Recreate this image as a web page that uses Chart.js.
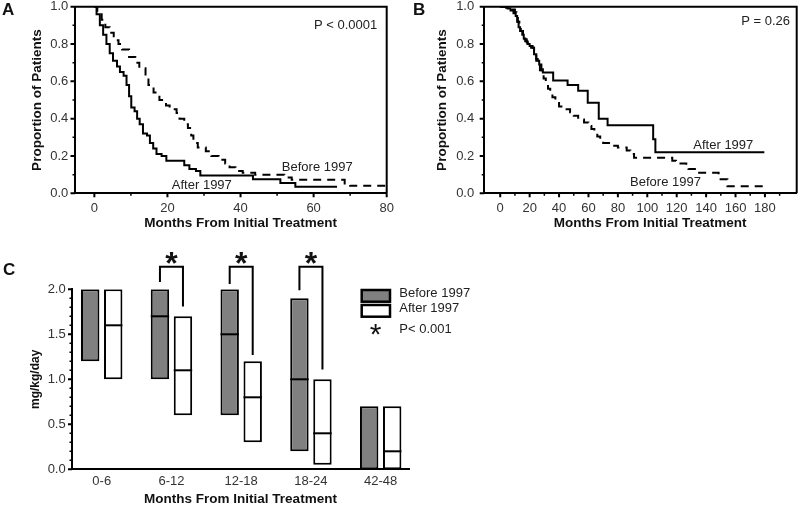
<!DOCTYPE html>
<html><head><meta charset="utf-8">
<script src="https://cdn.jsdelivr.net/npm/chart.js@4"></script>
<style>
html,body{margin:0;padding:0;background:#fff;width:800px;height:505px;overflow:hidden;position:relative;font-family:'Liberation Sans',Arial,sans-serif;}
canvas{position:absolute;}
.lbl{position:absolute;font-weight:bold;font-size:17px;line-height:17px;color:#111;}
</style></head><body>
<canvas id="cA" width="400" height="260" style="left:0;top:-10px"></canvas>
<canvas id="cB" width="400" height="260" style="left:400px;top:-10px"></canvas>
<canvas id="cC" width="500" height="275" style="left:0;top:240px"></canvas>
<div class="lbl" style="left:2px;top:1px">A</div>
<div class="lbl" style="left:413px;top:1px">B</div>
<div class="lbl" style="left:3px;top:261px">C</div>
<script>
// ---------- Panel A data ----------
const aAfterT = [0, 0.6, 1.5, 2.4, 3.3, 4.2, 5.1, 6.2, 7.0, 8.0, 8.8, 9.5, 10.1, 11.0, 11.7, 12.4, 13.3, 14.4, 15.2, 16.1, 17.0, 18.4, 19.7, 24.6, 26.0, 27.8, 29.0, 43.4, 50.9, 55.0, 66.4];
const aAfterP = [1.0, 0.96, 0.90, 0.85, 0.80, 0.75, 0.71, 0.68, 0.65, 0.63, 0.58, 0.52, 0.46, 0.44, 0.40, 0.37, 0.32, 0.31, 0.27, 0.24, 0.21, 0.20, 0.175, 0.15, 0.13, 0.12, 0.095, 0.075, 0.055, 0.035, 0.035];
const aBeforeT = [0, 0.8, 2.0, 3.0, 4.2, 5.3, 6.6, 7.6, 9.5, 11.2, 12.3, 14.0, 14.8, 16.2, 17.8, 19.6, 20.6, 22.5, 23.3, 24.6, 25.6, 26.5, 27.1, 28.3, 30.5, 32.0, 34.0, 35.8, 37.0, 38.6, 40.6, 44.0, 52.0, 54.0, 68.5, 70.0, 80.0];
const aBeforeP = [1.0, 0.96, 0.93, 0.89, 0.86, 0.82, 0.80, 0.77, 0.73, 0.70, 0.67, 0.62, 0.58, 0.54, 0.50, 0.47, 0.45, 0.43, 0.40, 0.37, 0.35, 0.31, 0.27, 0.245, 0.225, 0.20, 0.18, 0.16, 0.14, 0.12, 0.11, 0.10, 0.085, 0.072, 0.045, 0.04, 0.04];
const aXTicks = [0, 20, 40, 60, 80];
const aXMinor = [10, 30, 50, 70];

// ---------- Panel B data ----------
const bAfterT = [0, 5, 7, 9, 10.5, 11.5, 12.5, 13.5, 15, 16, 17, 18.5, 20, 22, 23, 24.5, 26.5, 28, 29, 36, 45.8, 53, 59.5, 67, 73, 104, 105.5, 179.6];
const bAfterP = [1.0, 0.99, 0.98, 0.965, 0.95, 0.92, 0.89, 0.87, 0.85, 0.83, 0.815, 0.80, 0.79, 0.78, 0.745, 0.71, 0.69, 0.665, 0.648, 0.605, 0.58, 0.55, 0.485, 0.40, 0.365, 0.29, 0.22, 0.22];
const bBeforeT = [0, 4, 8, 10, 11, 12, 13, 14, 15.5, 16.5, 18, 19.5, 21, 23, 24.5, 25.5, 27, 28, 29.5, 31, 32.5, 34, 35.5, 37.5, 40, 43, 47.5, 50, 53, 57, 60, 62, 64, 66, 68, 70, 74, 80, 86, 88.5, 91, 117, 119.5, 126.5, 128, 133.5, 148.5, 154.5, 182];
const bBeforeP = [1.0, 0.995, 0.985, 0.97, 0.95, 0.92, 0.895, 0.87, 0.85, 0.825, 0.81, 0.795, 0.78, 0.76, 0.72, 0.70, 0.66, 0.64, 0.615, 0.59, 0.56, 0.535, 0.515, 0.49, 0.465, 0.45, 0.435, 0.415, 0.395, 0.38, 0.36, 0.345, 0.325, 0.305, 0.285, 0.27, 0.255, 0.245, 0.23, 0.21, 0.19, 0.175, 0.16, 0.15, 0.13, 0.11, 0.075, 0.038, 0.038];
const bXTicks = [0, 20, 40, 60, 80, 100, 120, 140, 160, 180];
const bXMinor = [10, 30, 50, 70, 90, 110, 130, 150, 170, 190];

// shared KM y ticks
const kmYTicks = [0, 0.2, 0.4, 0.6, 0.8, 1.0];
const kmYTickLabels = ['0.0', '0.2', '0.4', '0.6', '0.8', '1.0'];
const kmYMinor = [0.1, 0.3, 0.5, 0.7, 0.9];

// ---------- Panel C data ----------
const cCategories = ['0-6', '6-12', '12-18', '18-24', '42-48'];
const beforeLow  = [1.2, 1.0, 0.6, 0.2, 0.0];
const beforeHigh = [2.0, 2.0, 2.0, 1.9, 0.7];
const beforeMed  = [null, 1.7, 1.5, 1.0, null];
const afterLow   = [1.0, 0.6, 0.3, 0.05, 0.0];
const afterHigh  = [2.0, 1.7, 1.2, 1.0, 0.7];
const afterMed   = [1.6, 1.1, 0.8, 0.4, 0.2];
const bracketLeftEnd  = [null, 2.08, 2.06, 1.99, null];
const bracketTop      = [null, 2.25, 2.25, 2.25, null];
const bracketRightEnd = [null, 1.81, 1.27, 1.11, null];
const cYTicks = [0, 0.5, 1.0, 1.5, 2.0];
const cYTickLabels = ['0.0', '0.5', '1.0', '1.5', '2.0'];
const cYMinor = [0.1, 0.2, 0.3, 0.4, 0.6, 0.7, 0.8, 0.9, 1.1, 1.2, 1.3, 1.4, 1.6, 1.7, 1.8, 1.9];

const FONT = "'Liberation Sans', Arial, Helvetica, sans-serif";
Chart.defaults.font.family = FONT;
Chart.defaults.font.size = 13;
Chart.defaults.color = '#333';
Chart.defaults.animation = false;

const decoPlugin = {
  id: 'deco',
  afterDatasetsDraw(chart, args, opts) {
    const ctx = chart.ctx;
    const ys = chart.scales.y;
    if (opts.boxes) {
      const mB = chart.getDatasetMeta(0), mA = chart.getDatasetMeta(1);
      ctx.save();
      ctx.strokeStyle = '#000'; ctx.lineWidth = 2; ctx.lineCap = 'butt';
      [[mB, beforeMed], [mA, afterMed]].forEach(([meta, med]) => {
        meta.data.forEach((el, i) => {
          if (med[i] == null) return;
          const p = el.getProps(['x', 'width'], true);
          const y = ys.getPixelForValue(med[i]);
          ctx.beginPath(); ctx.moveTo(p.x - p.width / 2, y); ctx.lineTo(p.x + p.width / 2, y); ctx.stroke();
        });
      });
      ctx.fillStyle = '#111';
      cCategories.forEach((c, i) => {
        if (bracketTop[i] == null) return;
        const xl = mB.data[i].getProps(['x'], true).x;
        const xr = mA.data[i].getProps(['x'], true).x;
        ctx.beginPath();
        ctx.moveTo(xl, ys.getPixelForValue(bracketLeftEnd[i]));
        ctx.lineTo(xl, ys.getPixelForValue(bracketTop[i]));
        ctx.lineTo(xr, ys.getPixelForValue(bracketTop[i]));
        ctx.lineTo(xr, ys.getPixelForValue(bracketRightEnd[i]));
        ctx.stroke();
        ctx.font = 'bold 32px ' + FONT; ctx.textAlign = 'center'; ctx.textBaseline = 'middle';
        ctx.fillText('*', (xl + xr) / 2, ys.getPixelForValue(opts.starLevel));
      });
      ctx.restore();
    }
  },
  afterDraw(chart, args, opts) {
    const ctx = chart.ctx, ca = chart.chartArea;
    const xs = chart.scales.x, ys = chart.scales.y;
    ctx.save();
    ctx.strokeStyle = '#000'; ctx.lineCap = 'butt';
    if (opts.frame) {
      ctx.lineWidth = 2;
      ctx.beginPath(); ctx.moveTo(ca.left, ca.top); ctx.lineTo(ca.right, ca.top); ctx.lineTo(ca.right, ca.bottom); ctx.stroke();
    }
    (opts.ticks || []).forEach(t => {
      ctx.lineWidth = t.w;
      ctx.beginPath();
      t.values.forEach(v => {
        if (t.axis === 'x') { const px = xs.getPixelForValue(v); ctx.moveTo(px, ca.bottom); ctx.lineTo(px, ca.bottom + t.len); }
        else { const py = ys.getPixelForValue(v); ctx.moveTo(ca.left, py); ctx.lineTo(ca.left - t.len, py); }
      });
      ctx.stroke();
    });
    (opts.texts || []).forEach(t => {
      ctx.font = (t.weight || 'normal') + ' ' + (t.size || 13) + 'px ' + FONT;
      ctx.fillStyle = t.color || '#222';
      ctx.textAlign = t.align || 'left';
      ctx.textBaseline = 'middle';
      const px = t.px !== undefined ? t.px : xs.getPixelForValue(t.x);
      const py = t.py !== undefined ? t.py : ys.getPixelForValue(t.y);
      ctx.fillText(t.text, px, py);
    });
    if (opts.legend) {
      const L = opts.legend;
      chart.data.datasets.forEach((ds, i) => {
        const r = L.swatches[i];
        ctx.fillStyle = ds.backgroundColor; ctx.fillRect(r[0], r[1], r[2], r[3]);
        ctx.lineWidth = 2.5; ctx.strokeStyle = '#000'; ctx.strokeRect(r[0], r[1], r[2], r[3]);
        ctx.font = '13px ' + FONT; ctx.fillStyle = '#222'; ctx.textAlign = 'left'; ctx.textBaseline = 'middle';
        ctx.fillText(ds.label, L.textX, L.textY[i]);
      });
      ctx.font = '30px ' + FONT; ctx.textAlign = 'center'; ctx.fillStyle = '#111';
      ctx.fillText('*', L.starX, L.starY);
      ctx.font = '13px ' + FONT; ctx.textAlign = 'left'; ctx.fillStyle = '#222';
      ctx.fillText(L.pText, L.textX, L.pY);
    }
    ctx.restore();
  }
};
Chart.register(decoPlugin);

function kmDataset(label, T, P, dash) {
  return {
    label, data: T.map((t, i) => ({x: t, y: P[i]})),
    stepped: 'before', borderColor: '#000', borderWidth: 2, pointRadius: 0,
    fill: false, borderDash: dash, tension: 0
  };
}

function kmOptions(cfg) {
  return {
    responsive: false, animation: false, events: [],
    layout: {padding: {left: cfg.padLeft, top: 16.7, right: cfg.padRight, bottom: 0}},
    plugins: {
      legend: {display: false}, tooltip: {enabled: false},
      deco: {
        frame: true,
        ticks: [
          {axis: 'x', values: cfg.xTicks, len: 4, w: 2},
          {axis: 'x', values: cfg.xMinor, len: 2.5, w: 1.5},
          {axis: 'y', values: kmYTicks, len: 4.5, w: 2},
          {axis: 'y', values: kmYMinor, len: 2.5, w: 1.5}
        ],
        texts: cfg.texts
      }
    },
    scales: {
      x: {
        type: 'linear', min: cfg.xMin, max: cfg.xMax,
        afterBuildTicks: s => { s.ticks = cfg.xTicks.map(v => ({value: v})); },
        afterFit: s => { s.height = 56.7; },
        grid: {display: false, drawTicks: true, tickLength: 4},
        border: {display: true, color: '#000', width: 2},
        ticks: {padding: 3, autoSkip: false, maxRotation: 0, color: '#333', callback: v => String(v)}
      },
      y: {
        type: 'linear', min: 0, max: 1,
        afterBuildTicks: s => { s.ticks = kmYTicks.map(v => ({value: v})); },
        afterFit: s => { s.width = 75; },
        grid: {display: false, drawTicks: true, tickLength: 4.5},
        border: {display: true, color: '#000', width: 2},
        ticks: {padding: cfg.yTickPad, color: '#333', callback: (v, i) => kmYTickLabels[i]},
        title: {display: true, text: 'Proportion of Patients', color: '#111',
                font: {size: 13.5, weight: 'bold'}, padding: {top: cfg.yTitlePad, bottom: 0}}
      }
    }
  };
}

new Chart(document.getElementById('cA'), {
  type: 'line',
  data: {datasets: [
    kmDataset('After 1997', aAfterT, aAfterP, []),
    kmDataset('Before 1997', aBeforeT, aBeforeP, [8, 6])
  ]},
  options: kmOptions({
    padLeft: 0, padRight: 13.3, xMin: -5.3, xMax: 80, xTicks: aXTicks, xMinor: aXMinor,
    yTickPad: 2.2, yTitlePad: 28.9,
    texts: [
      {text: 'P < 0.0001', x: 77.4, y: 0.899, align: 'right'},
      {text: 'Before 1997', x: 51.3, y: 0.14},
      {text: 'After 1997', x: 21.2, y: 0.042},
      {text: 'Months From Initial Treatment', x: 40, py: 233, align: 'center', weight: 'bold', size: 13.5, color: '#111'}
    ]
  })
});

new Chart(document.getElementById('cB'), {
  type: 'line',
  data: {datasets: [
    kmDataset('After 1997', bAfterT, bAfterP, []),
    kmDataset('Before 1997', bBeforeT, bBeforeP, [8, 6])
  ]},
  options: kmOptions({
    padLeft: 9.2, padRight: 3.3, xMin: -10.9, xMax: 201.6, xTicks: bXTicks, xMinor: bXMinor,
    yTickPad: 5.5, yTitlePad: 24.7,
    texts: [
      {text: 'P = 0.26', x: 197.1, y: 0.921, align: 'right'},
      {text: 'After 1997', x: 131.3, y: 0.256},
      {text: 'Before 1997', x: 88.3, y: 0.059},
      {text: 'Months From Initial Treatment', x: 101.9, py: 233, align: 'center', weight: 'bold', size: 13.5, color: '#111'}
    ]
  })
});

new Chart(document.getElementById('cC'), {
  type: 'bar',
  data: {datasets: [
    {label: 'Before 1997', data: cCategories.map((c, i) => ({x: i, y: [beforeLow[i], beforeHigh[i]]})),
     backgroundColor: '#808080', borderColor: '#000', borderWidth: 2, borderSkipped: false,
     categoryPercentage: 0.66, barPercentage: 0.8},
    {label: 'After 1997', data: cCategories.map((c, i) => ({x: i, y: [afterLow[i], afterHigh[i]]})),
     backgroundColor: '#ffffff', borderColor: '#000', borderWidth: 2, borderSkipped: false,
     categoryPercentage: 0.66, barPercentage: 0.8}
  ]},
  options: {
    responsive: false, animation: false, events: [],
    layout: {padding: {left: 0, top: 49.3, right: 91, bottom: 0}},
    plugins: {
      legend: {display: false}, tooltip: {enabled: false},
      deco: {
        boxes: true, starLevel: 2.266,
        ticks: [
          {axis: 'y', values: cYTicks, len: 4, w: 2},
          {axis: 'y', values: cYMinor, len: 2.5, w: 1.5}
        ],
        legend: {
          swatches: [[361.7, 50, 28.3, 11.7], [361.7, 65, 28.3, 11.7]],
          textX: 399.3, textY: [53.8, 68.8],
          starX: 375.5, starY: 95.5, pText: 'P< 0.001', pY: 89.5
        }
      }
    },
    scales: {
      x: {
        type: 'linear', min: -0.426, max: 4.406, offset: false,
        afterBuildTicks: s => { s.ticks = cCategories.map((c, i) => ({value: i})); },
        afterFit: s => { s.height = 45.7; },
        grid: {display: false, drawTicks: false},
        border: {display: true, color: '#000', width: 2},
        ticks: {padding: 4.4, autoSkip: false, maxRotation: 0, color: '#333', callback: v => cCategories[v]},
        title: {display: true, text: 'Months From Initial Treatment', color: '#111',
                font: {size: 13.5, weight: 'bold'}, padding: {top: 0, bottom: 7.6}}
      },
      y: {
        type: 'linear', min: 0, max: 2,
        afterBuildTicks: s => { s.ticks = cYTicks.map(v => ({value: v})); },
        afterFit: s => { s.width = 72; },
        grid: {display: false, drawTicks: true, tickLength: 4},
        border: {display: true, color: '#000', width: 2},
        ticks: {padding: 2.3, color: '#333', callback: (v, i) => cYTickLabels[i]},
        title: {display: true, text: 'mg/kg/day', color: '#111',
                font: {size: 12, weight: 'bold'}, padding: {top: 28.8, bottom: 0}}
      }
    }
  }
});
</script>
</body></html>
